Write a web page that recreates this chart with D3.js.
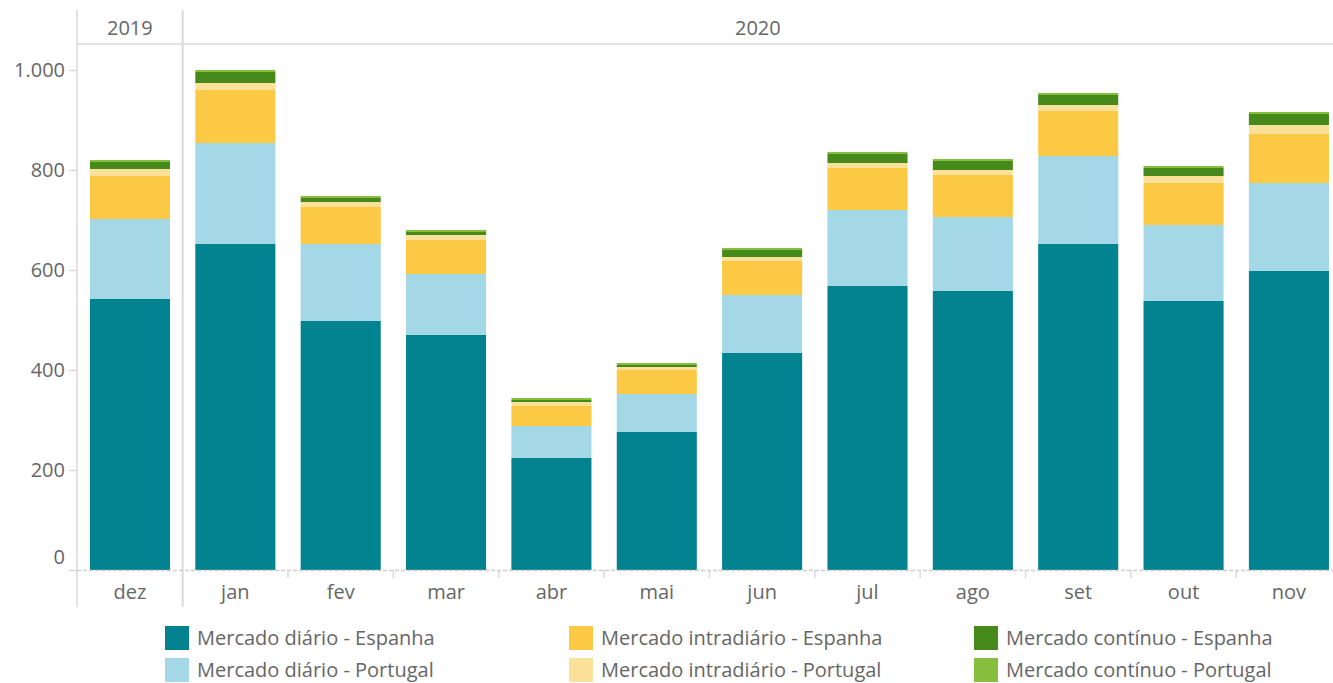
<!DOCTYPE html>
<html><head><meta charset="utf-8">
<script src="https://cdn.jsdelivr.net/npm/d3@7"></script>
<style>
body{margin:0;background:#fff;}
text{font-family:"Open Sans",sans-serif;fill:#666;}
</style></head>
<body><svg id="c" width="1333" height="683"></svg>
<script>
const months = ["dez","jan","fev","mar","abr","mai","jun","jul","ago","set","out","nov"];
const years = ["2019","2020"];
const yTicks = [0,200,400,600,800,1000];
const seriesNames = ["Mercado diário - Espanha","Mercado diário - Portugal","Mercado intradiário - Espanha","Mercado intradiário - Portugal","Mercado contínuo - Espanha","Mercado contínuo - Portugal"];
const diarioES = [542,652,498,470,224,276,434,568,558,652,538,598];
const diarioPT = [160,202,154,122,64,76,116,152,148,176,152,176];
const intraES  = [86,106,74,68,40,48,68,84,84,90,84,98];
const intraPT  = [14,14,10,10,8,6,8,10,10,12,14,18];
const contES   = [14,22,8,6,4,4,14,18,18,20,16,22];
const contPT   = [4,4,4,4,4,4,4,4,4,4,4,4];
const colors = ["#02838f","#a5d8e6","#fcc944","#fbe09a","#468a1c","#86bf3e"];

const seriesData = [diarioES,diarioPT,intraES,intraPT,contES,contPT];
const keys = seriesNames;
const rows = months.map((m,i)=>{const r={month:m}; keys.forEach((k,j)=>r[k]=seriesData[j][i]); return r;});
const stack = d3.stack().keys(keys)(rows);

const svg = d3.select("#c");
const x = d3.scaleBand().domain(months).range([77.3,1341.6]).paddingInner(0.24).paddingOuter(0.12);
const y = d3.scaleLinear().domain([0,1000]).range([570,70]);
const color = d3.scaleOrdinal().domain(keys).range(colors);

const grid = "#d9d9d9";
const fs = 20;
// header line
svg.append("line").attr("x1",77).attr("x2",1333).attr("y1",44).attr("y2",44).attr("stroke",grid).attr("stroke-width",1.5);
// left axis line
svg.append("line").attr("x1",77).attr("x2",77).attr("y1",10).attr("y2",607).attr("stroke",grid).attr("stroke-width",1.5);
// year separator
const sepX = x("jan") - (x.step()-x.bandwidth())/2;
svg.append("line").attr("x1",sepX).attr("x2",sepX).attr("y1",10).attr("y2",607).attr("stroke",grid).attr("stroke-width",2);

// year labels
svg.append("text").attr("x",(77+sepX)/2).attr("y",35).attr("text-anchor","middle").attr("font-size",fs).text(years[0]);
svg.append("text").attr("x",(sepX+1333)/2).attr("y",35).attr("text-anchor","middle").attr("font-size",fs).text(years[1]);

// bars
svg.append("g").selectAll("g").data(stack).join("g").attr("fill",d=>color(d.key))
  .selectAll("rect").data(d=>d).join("rect")
  .attr("x",d=>x(d.data.month)).attr("width",x.bandwidth())
  .attr("y",d=>y(d[1])).attr("height",d=>y(d[0])-y(d[1]));

// x axis baseline
svg.append("line").attr("x1",77).attr("x2",1333).attr("y1",570.5).attr("y2",570.5).attr("stroke","#cfcfcf").attr("stroke-width",1.5).attr("stroke-dasharray","4,2");
// x tick marks at band boundaries
const bounds = months.slice(2).map(m=>x(m)-(x.step()-x.bandwidth())/2);
svg.append("g").selectAll("line").data(bounds).join("line")
  .attr("x1",d=>d).attr("x2",d=>d).attr("y1",570).attr("y2",578).attr("stroke",grid).attr("stroke-width",1.5);
// month labels
svg.append("g").selectAll("text").data(months).join("text")
  .attr("x",d=>x(d)+x.bandwidth()/2).attr("y",599).attr("text-anchor","middle").attr("font-size",fs).text(d=>d);

// y axis
const yAxis = d3.axisLeft(y).tickValues(yTicks).tickSize(8).tickFormat(d=>d3.format(",")(d).replace(/,/g,"."));
const ya = svg.append("g").attr("transform","translate(77,0)").call(yAxis);
ya.select(".domain").remove();
ya.selectAll(".tick line").attr("stroke",grid).attr("stroke-width",1.5);
ya.selectAll(".tick text").attr("font-size",fs).attr("fill","#666").attr("x",-12)
  .attr("font-family","'Open Sans',sans-serif")
  .attr("dy",d=>d===0?"-0.35em":"0.32em");

// legend
const legX = [165,569,974];
const leg = svg.append("g").selectAll("g").data(keys).join("g")
  .attr("transform",(d,i)=>`translate(${legX[Math.floor(i/2)]},${626+(i%2)*32})`);
leg.append("rect").attr("width",24).attr("height",24).attr("fill",d=>color(d));
leg.append("text").attr("x",32).attr("y",19).attr("font-size",fs).text(d=>d);
</script></body></html>
